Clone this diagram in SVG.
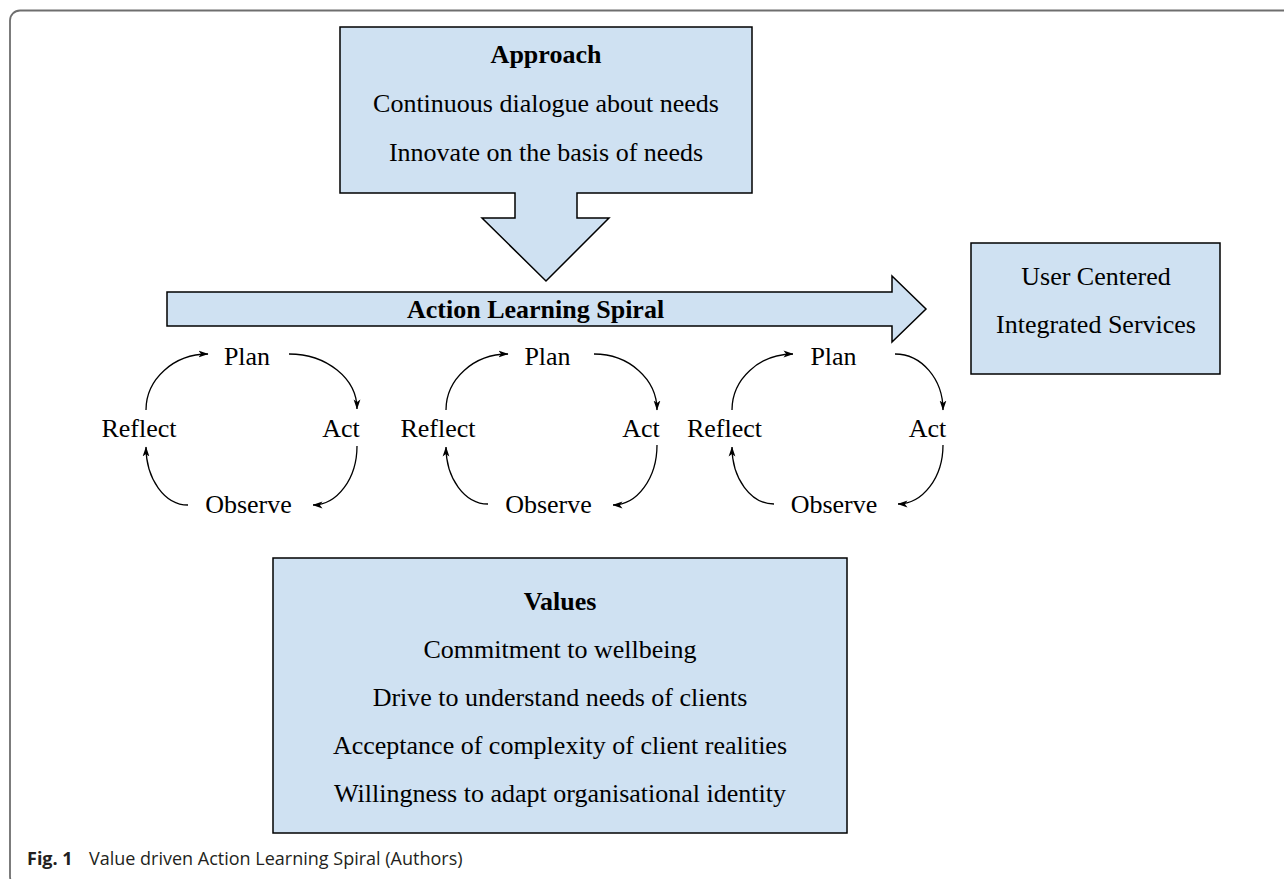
<svg xmlns="http://www.w3.org/2000/svg" width="1284" height="879" viewBox="0 0 1284 879">
  <style>
    .shape { fill: #cfe1f2; stroke: #000; stroke-width: 1.5; stroke-linejoin: miter; }
    .t { font-family: "Liberation Serif", "Times New Roman", serif; font-size: 26px; fill: #000; text-anchor: middle; }
    .b { font-weight: bold; }
    .arc { fill: none; stroke: #000; stroke-width: 1.3; marker-end: url(#ah); }
    .cap { font-family: "Open Sans", "Noto Sans", sans-serif; font-size: 18px; fill: #231f20; }
  </style>
  <defs>
    <marker id="ah" viewBox="0 0 10 8" refX="9.5" refY="4" markerWidth="10" markerHeight="8" markerUnits="userSpaceOnUse" orient="auto">
      <path d="M0,0.6 L10,4 L0,7.4 L2.6,4 Z" fill="#000"/>
    </marker>
  </defs>

  <rect width="1284" height="879" fill="#fff"/>

  <!-- figure frame (open to the right and bottom) -->
  <rect x="10" y="10.5" width="1320" height="876" rx="10" ry="10" fill="none" stroke="#6e6e6e" stroke-width="1.8"/>

  <!-- Approach box with downward block arrow -->
  <g id="approach">
    <path class="shape" d="M340,27 H752 V193 H577 V218 H609 L546,281 L482,218 H515 V193 H340 Z"/>
    <text class="t b" x="546" y="63">Approach</text>
    <text class="t" x="546" y="112">Continuous dialogue about needs</text>
    <text class="t" x="546" y="161">Innovate on the basis of needs</text>
  </g>

  <!-- horizontal block arrow -->
  <g id="spiral">
    <path class="shape" d="M167,292 H892 V276 L926,309 L892,342 V326 H167 Z"/>
    <text class="t b" x="407" y="318" style="text-anchor:start">Action Learning Spiral</text>
  </g>

  <!-- outcome box -->
  <g id="outcome">
    <rect class="shape" x="971" y="243" width="249" height="131"/>
    <text class="t" x="1096" y="285">User Centered</text>
    <text class="t" x="1096" y="333">Integrated Services</text>
  </g>

  <!-- values box -->
  <g id="values">
    <rect class="shape" x="273" y="558" width="574" height="275"/>
    <text class="t b" x="560" y="610">Values</text>
    <text class="t" x="560" y="658">Commitment to wellbeing</text>
    <text class="t" x="560" y="706">Drive to understand needs of clients</text>
    <text class="t" x="560" y="754">Acceptance of complexity of client realities</text>
    <text class="t" x="560" y="802">Willingness to adapt organisational identity</text>
  </g>

  <!-- cycle 1 labels -->
  <g id="plan-1"><text class="t" x="247" y="365">Plan</text></g>
  <g id="act-1"><text class="t" x="341" y="437">Act</text></g>
  <g id="observe-1"><text class="t" x="248.5" y="513">Observe</text></g>
  <g id="reflect-1"><text class="t" x="139" y="437">Reflect</text></g>

  <!-- cycle 2 labels -->
  <g id="plan-2"><text class="t" x="547.5" y="365">Plan</text></g>
  <g id="act-2"><text class="t" x="641" y="437">Act</text></g>
  <g id="observe-2"><text class="t" x="548.5" y="513">Observe</text></g>
  <g id="reflect-2"><text class="t" x="438" y="437">Reflect</text></g>

  <!-- cycle 3 labels -->
  <g id="plan-3"><text class="t" x="833.5" y="365">Plan</text></g>
  <g id="act-3"><text class="t" x="927.5" y="437">Act</text></g>
  <g id="observe-3"><text class="t" x="834" y="513">Observe</text></g>
  <g id="reflect-3"><text class="t" x="724.5" y="437">Reflect</text></g>

  <!-- curved connectors of the three cycles -->
  <g id="connectors">
    <path class="arc" d="M146,410 A62,56 0 0 1 208,354"/>
    <path class="arc" d="M289,354 A68,55 0 0 1 357,409"/>
    <path class="arc" d="M357,446 A44,59 0 0 1 313,505"/>
    <path class="arc" d="M188,505 A42,58 0 0 1 146,447"/>

    <path class="arc" d="M446,410 A62,56 0 0 1 508,354"/>
    <path class="arc" d="M594,354 A63,56 0 0 1 657,410"/>
    <path class="arc" d="M657,445 A44,60 0 0 1 613,505"/>
    <path class="arc" d="M488,504 A42,57 0 0 1 446,447"/>

    <path class="arc" d="M732,410 A61,56 0 0 1 793,354"/>
    <path class="arc" d="M895,354 A48,56 0 0 1 943,410"/>
    <path class="arc" d="M943,445 A45,59 0 0 1 898,504"/>
    <path class="arc" d="M774,504 A42,57 0 0 1 732,447"/>
  </g>

  <!-- caption -->
  <text class="cap" x="27" y="865"><tspan font-weight="bold">Fig. 1</tspan><tspan x="89">Value driven Action Learning Spiral (Authors)</tspan></text>
</svg>
